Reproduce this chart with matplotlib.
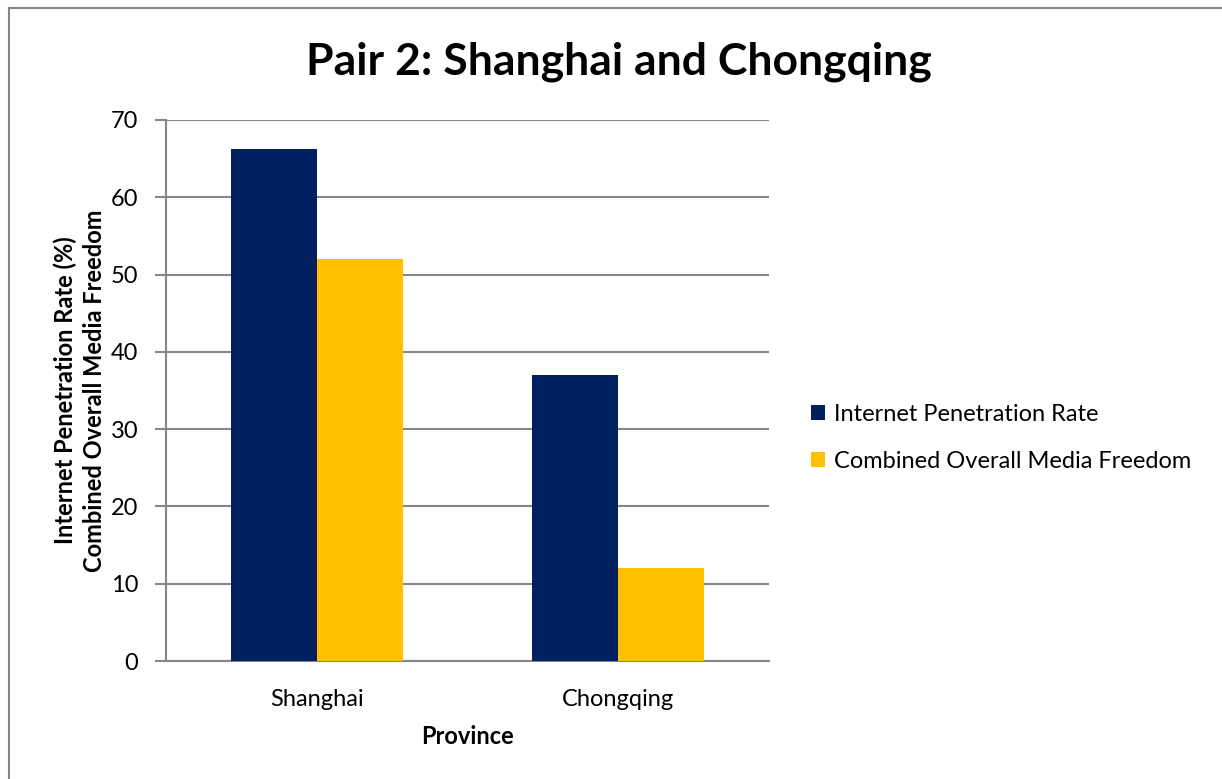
import matplotlib
matplotlib.use("Agg")
import matplotlib.pyplot as plt
import numpy as np
from matplotlib.lines import Line2D

provinces = ["Shanghai", "Chongqing"]
internet_rate = [66.2, 37.0]
media_freedom = [52.0, 12.0]
series_names = ["Internet Penetration Rate", "Combined Overall Media Freedom"]
y_ticks = [0, 10, 20, 30, 40, 50, 60, 70]

plt.rcParams["font.family"] = ["Lato", "DejaVu Sans"]

W, H = 1222, 779
fig = plt.figure(figsize=(W / 100, H / 100), dpi=100)
ax = fig.add_axes([166 / W, 1 - 661 / H, (769 - 166) / W, (661 - 120) / H])

navy = "#002060"
gold = "#FFC000"
grid_c = "#868686"
fs = 17

x = np.arange(len(provinces))
bw = 0.285
ax.bar(x - bw / 2, internet_rate, bw, color=navy, label=series_names[0], zorder=3)
ax.bar(x + bw / 2, media_freedom, bw, color=gold, label=series_names[1], zorder=3)

ax.set_xlim(-0.5, 1.5)
ax.set_ylim(0, 70)
ax.set_yticks(y_ticks)
ax.yaxis.grid(True, color=grid_c, linewidth=1.5, zorder=0)
ax.set_axisbelow(True)
for s in ["top", "right"]:
    ax.spines[s].set_visible(False)
ax.spines["left"].set_color(grid_c)
ax.spines["left"].set_linewidth(1.5)
ax.spines["bottom"].set_color(grid_c)
ax.spines["bottom"].set_linewidth(1.5)
ax.tick_params(axis="y", length=8, width=1.5, color=grid_c, labelsize=fs, pad=12)
ax.tick_params(axis="x", length=0, labelsize=fs, pad=20)
ax.set_xticks(x)
ax.set_xticklabels(provinces)

ax.set_xlabel("Province", fontsize=fs, fontweight="bold", labelpad=11)
ax.set_ylabel("Internet Penetration Rate (%)\nCombined Overall Media Freedom",
              fontsize=fs, fontweight="bold", labelpad=3, linespacing=1.35)

fig.text(619 / W, 1 - 62 / H, "Pair 2: Shanghai and Chongqing",
         ha="center", va="center", fontsize=32, fontweight="bold")

ax.legend(loc="center left", bbox_to_anchor=(790 / W, 1 - 438 / H),
          bbox_transform=fig.transFigure, frameon=False, fontsize=fs,
          handlelength=0.6, handleheight=0.6, handletextpad=0.35,
          labelspacing=1.1)

# chart-area frame: left and top edges
fig.add_artist(Line2D([9 / W, 9 / W], [0, 1 - 8 / H], transform=fig.transFigure,
                      color=grid_c, linewidth=1.5))
fig.add_artist(Line2D([9 / W, 1], [1 - 8 / H, 1 - 8 / H], transform=fig.transFigure,
                      color=grid_c, linewidth=1.5))

fig.savefig("out.png", dpi=100, facecolor="white")
